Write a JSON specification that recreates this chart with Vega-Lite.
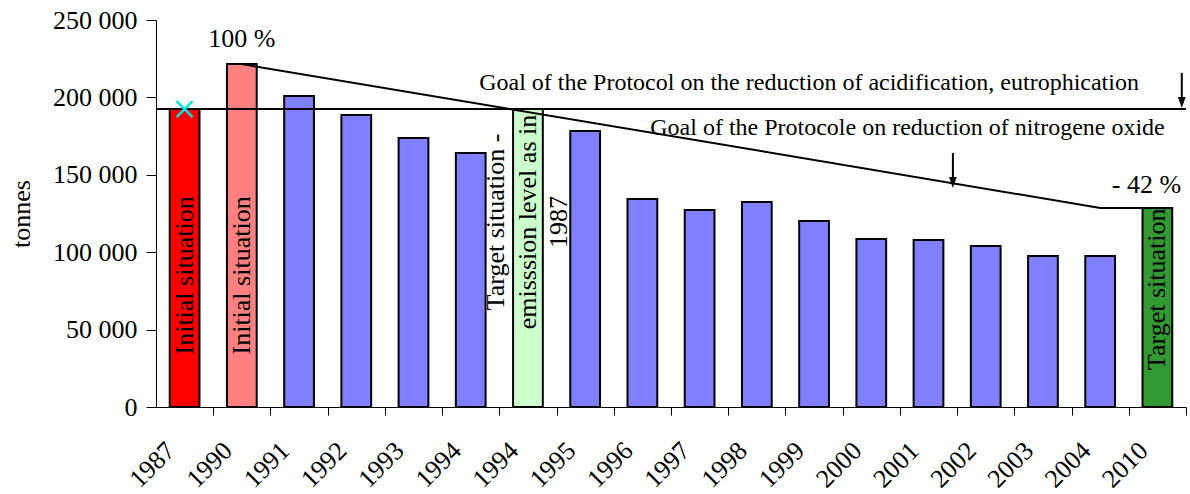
{
  "$schema": "https://vega.github.io/schema/vega-lite/v6.json",
  "width": 1030,
  "height": 387,
  "autosize": {"type": "none"},
  "padding": {"left": 156, "top": 20, "right": 4, "bottom": 87},
  "background": "white",
  "config": {
    "view": {"stroke": null},
    "font": "Liberation Serif",
    "text": {"font": "Liberation Serif", "fontSize": 26, "color": "black"}
  },
  "layer": [
    {
      "data": {"values": [
        {"key": "1987", "tonnes": 192500, "kind": "init87"},
        {"key": "1990", "tonnes": 221500, "kind": "init90"},
        {"key": "1991", "tonnes": 200900, "kind": "annual"},
        {"key": "1992", "tonnes": 188600, "kind": "annual"},
        {"key": "1993", "tonnes": 173800, "kind": "annual"},
        {"key": "1994", "tonnes": 164100, "kind": "annual"},
        {"key": "1994t", "tonnes": 192500, "kind": "target94"},
        {"key": "1995", "tonnes": 178300, "kind": "annual"},
        {"key": "1996", "tonnes": 134400, "kind": "annual"},
        {"key": "1997", "tonnes": 127300, "kind": "annual"},
        {"key": "1998", "tonnes": 132400, "kind": "annual"},
        {"key": "1999", "tonnes": 120200, "kind": "annual"},
        {"key": "2000", "tonnes": 108500, "kind": "annual"},
        {"key": "2001", "tonnes": 107900, "kind": "annual"},
        {"key": "2002", "tonnes": 104000, "kind": "annual"},
        {"key": "2003", "tonnes": 97500, "kind": "annual"},
        {"key": "2004", "tonnes": 97500, "kind": "annual"},
        {"key": "2010", "tonnes": 128600, "kind": "target10"}
      ]},
      "mark": {"type": "bar", "stroke": "black", "strokeWidth": 2},
      "encoding": {
        "x": {
          "field": "key", "type": "nominal",
          "scale": {"domain": ["1987","1990","1991","1992","1993","1994","1994t","1995","1996","1997","1998","1999","2000","2001","2002","2003","2004","2010"], "paddingInner": 0.48, "paddingOuter": 0.24},
          "axis": {
            "title": null, "labelExpr": "slice(datum.value, 0, 4)",
            "labelAngle": -45, "labelAlign": "right", "labelBaseline": "top",
            "labelFont": "Liberation Serif", "labelFontSize": 26, "labelColor": "black",
            "labelPadding": 22, "labelOffset": -52, "tickOffset": 28.6, "tickSize": 8,
            "tickColor": "black", "domainColor": "black", "grid": false
          }
        },
        "y": {
          "field": "tonnes", "type": "quantitative",
          "scale": {"domain": [0, 250000], "nice": false, "zero": true},
          "axis": {
            "title": "tonnes", "titleFont": "Liberation Serif", "titleFontSize": 26, "titleFontWeight": "normal",
            "titleColor": "black", "titlePadding": 18,
            "values": [0, 50000, 100000, 150000, 200000, 250000],
            "labelExpr": "datum.value == 0 ? '0' : format(datum.value / 1000, 'd') + ' 000'",
            "labelFont": "Liberation Serif", "labelFontSize": 26, "labelColor": "black",
            "tickSize": 10, "labelPadding": 9, "tickColor": "black", "domainColor": "black", "grid": false
          }
        },
        "color": {
          "field": "kind", "type": "nominal",
          "scale": {"domain": ["init87", "init90", "annual", "target94", "target10"], "range": ["#FF0000", "#FF8080", "#8080FF", "#CCFFCC", "#339933"]},
          "legend": null
        }
      }
    },
    {
      "data": {"values": [{"tonnes": 192500}]},
      "mark": {"type": "rule", "color": "black", "strokeWidth": 2},
      "encoding": {"y": {"field": "tonnes", "type": "quantitative"}}
    },
    {
      "data": {"values": [
        {"key": "1990", "tonnes": 221500},
        {"key": "2004", "tonnes": 128600},
        {"key": "2010", "tonnes": 128600}
      ]},
      "mark": {"type": "line", "color": "black", "strokeWidth": 2},
      "encoding": {
        "x": {"field": "key", "type": "nominal"},
        "y": {"field": "tonnes", "type": "quantitative"}
      }
    },
    {
      "data": {"values": [{"key": "1987", "tonnes": 192500}]},
      "mark": {"type": "point", "shape": "M-1,-1L1,1M1,-1L-1,1", "filled": false, "color": "#00E5E5", "strokeWidth": 2.5, "size": 256, "opacity": 1},
      "encoding": {
        "x": {"field": "key", "type": "nominal"},
        "y": {"field": "tonnes", "type": "quantitative"}
      }
    },
    {
      "data": {"values": [
        {"key": "2010", "tonnes": 215800, "tonnes2": 197500},
        {"key": "2001", "tonnes": 164100, "tonnes2": 146000}
      ]},
      "mark": {"type": "rule", "color": "black", "strokeWidth": 2},
      "encoding": {
        "x": {"field": "key", "type": "nominal", "bandPosition": 1.32},
        "y": {"field": "tonnes", "type": "quantitative"},
        "y2": {"field": "tonnes2"}
      }
    },
    {
      "data": {"values": [
        {"key": "2010", "tonnes": 196700},
        {"key": "2001", "tonnes": 145000}
      ]},
      "mark": {"type": "point", "shape": "M-0.7,-1L0.7,-1L0,1Z", "filled": true, "color": "black", "size": 121, "opacity": 1},
      "encoding": {
        "x": {"field": "key", "type": "nominal", "bandPosition": 1.32},
        "y": {"field": "tonnes", "type": "quantitative"}
      }
    },
    {
      "data": {"values": [
        {"key": "1987", "tonnes": 85000, "label": "Initial situation"},
        {"key": "1990", "tonnes": 85000, "label": "Initial situation"},
        {"key": "2010", "tonnes": 76000, "label": "Target situation"}
      ]},
      "mark": {"type": "text", "angle": 270, "align": "center", "baseline": "middle"},
      "encoding": {
        "x": {"field": "key", "type": "nominal"},
        "y": {"field": "tonnes", "type": "quantitative"},
        "text": {"field": "label"}
      }
    },
    {
      "data": {"values": [
        {"key": "1994t", "tonnes": 119500, "label": ["Target situation -", "emisssion level as in", "1987"]}
      ]},
      "mark": {"type": "text", "angle": 270, "align": "center", "baseline": "middle", "lineHeight": 31.5, "dy": -31.5},
      "encoding": {
        "x": {"field": "key", "type": "nominal"},
        "y": {"field": "tonnes", "type": "quantitative"},
        "text": {"field": "label"}
      }
    },
    {
      "data": {"values": [{"key": "1990", "tonnes": 237500, "label": "100 %"}]},
      "mark": {"type": "text", "align": "center", "baseline": "middle"},
      "encoding": {
        "x": {"field": "key", "type": "nominal"},
        "y": {"field": "tonnes", "type": "quantitative"},
        "text": {"field": "label"}
      }
    },
    {
      "data": {"values": [{"key": "2010", "tonnes": 143400, "label": "- 42 %"}]},
      "mark": {"type": "text", "align": "center", "baseline": "middle", "dx": -11},
      "encoding": {
        "x": {"field": "key", "type": "nominal"},
        "y": {"field": "tonnes", "type": "quantitative"},
        "text": {"field": "label"}
      }
    },
    {
      "data": {"values": [{"key": "1999", "tonnes": 209300, "label": "Goal of the Protocol on the reduction of acidification, eutrophication"}]},
      "mark": {"type": "text", "align": "center", "baseline": "middle", "dx": -5, "fontSize": 24},
      "encoding": {
        "x": {"field": "key", "type": "nominal"},
        "y": {"field": "tonnes", "type": "quantitative"},
        "text": {"field": "label"}
      }
    },
    {
      "data": {"values": [{"key": "2001", "tonnes": 180200, "label": "Goal of the Protocole on reduction of nitrogene oxide"}]},
      "mark": {"type": "text", "align": "center", "baseline": "middle", "dx": -21, "fontSize": 24},
      "encoding": {
        "x": {"field": "key", "type": "nominal"},
        "y": {"field": "tonnes", "type": "quantitative"},
        "text": {"field": "label"}
      }
    }
  ]
}
